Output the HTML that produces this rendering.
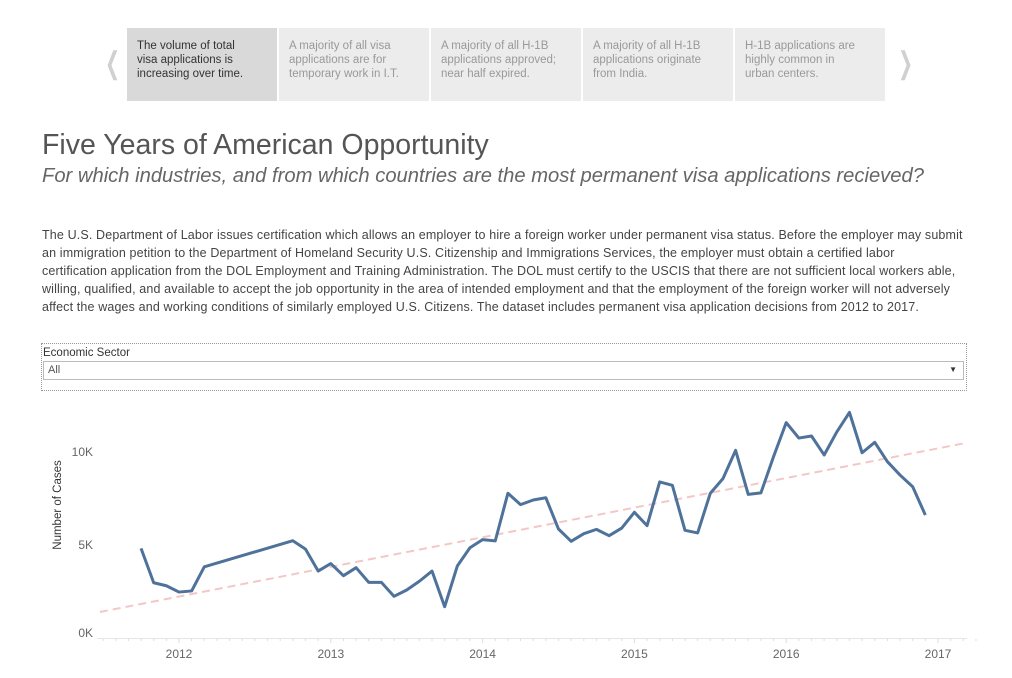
<!DOCTYPE html>
<html><head><meta charset="utf-8">
<style>
body{margin:0;width:1012px;height:678px;background:#fff;font-family:"Liberation Sans",sans-serif;position:relative;overflow:hidden}
.card{position:absolute;top:28px;width:150px;height:73px;background:#ececec;box-sizing:border-box;padding:11px 0 0 10px;font-size:11.5px;line-height:14px;color:#999}
.card.sel{background:#d9d9d9;color:#333}
.arrow{position:absolute;top:46px;font-size:30px;color:#d0d0d0;transform:scaleX(0.6)}
#title{position:absolute;left:42px;top:129px;font-size:28.5px;color:#555}
#sub{position:absolute;left:42px;top:165px;font-size:20.2px;font-style:italic;color:#666}
#desc{position:absolute;left:42px;top:226px;font-size:12.5px;letter-spacing:0.14px;line-height:18px;color:#444;white-space:nowrap}
#filter{position:absolute;left:41px;top:343px;width:926px;height:48px;border:1px dotted #999;box-sizing:border-box}
</style></head><body>
<div class="arrow" style="left:100px">&#10094;</div>
<div class="card sel" style="left:127px">The volume of total<br>visa applications is<br>increasing over time.</div>
<div class="card" style="left:279px">A majority of all visa<br>applications are for<br>temporary work in I.T.</div>
<div class="card" style="left:431px">A majority of all H-1B<br>applications approved;<br>near half expired.</div>
<div class="card" style="left:583px">A majority of all H-1B<br>applications originate<br>from India.</div>
<div class="card" style="left:735px">H-1B applications are<br>highly common in<br>urban centers.</div>
<div class="arrow" style="left:893px">&#10095;</div>
<div id="title">Five Years of American Opportunity</div>
<div id="sub">For which industries, and from which countries are the most permanent visa applications recieved?</div>
<div id="desc">The U.S. Department of Labor issues certification which allows an employer to hire a foreign worker under permanent visa status. Before the employer may submit<br>an immigration petition to the Department of Homeland Security U.S. Citizenship and Immigrations Services, the employer must obtain a certified labor<br>certification application from the DOL Employment and Training Administration. The DOL must certify to the USCIS that there are not sufficient local workers able,<br>willing, qualified, and available to accept the job opportunity in the area of intended employment and that the employment of the foreign worker will not adversely<br>affect the wages and working conditions of similarly employed U.S. Citizens. The dataset includes permanent visa application decisions from 2012 to 2017.</div>
<div id="filter">
<div style="position:absolute;left:1px;top:3px;font-size:11.5px;color:#333">Economic Sector</div>
<div style="position:absolute;left:1px;top:17px;width:921px;height:19px;border:1px solid #bbb;box-sizing:border-box;font-size:11px;color:#555;padding:2px 0 0 4px">All<span style="position:absolute;right:6px;top:3px;font-size:8px;color:#333">&#9660;</span></div>
</div>
<svg id="chart" width="1012" height="678" style="position:absolute;left:0;top:0"></svg>
<script>
const months=[-3,-2,-1,0,1,2,9,10,11,12,13,14,15,16,17,18,19,20,21,22,23,24,25,26,27,28,29,30,31,32,33,34,35,36,37,38,39,40,41,42,43,44,45,46,47,48,49,50,51,52,53,54,55,56,57,58,59];
const cases=[4.82,2.97,2.81,2.47,2.53,3.83,5.23,4.78,3.6,4.0,3.35,3.78,2.99,2.99,2.24,2.58,3.05,3.6,1.68,3.87,4.85,5.29,5.22,7.78,7.17,7.42,7.54,5.86,5.2,5.61,5.84,5.5,5.91,6.76,6.04,8.39,8.21,5.79,5.65,7.78,8.57,10.09,7.72,7.8,9.75,11.58,10.75,10.86,9.84,11.08,12.13,9.96,10.52,9.48,8.76,8.13,6.61];
const trendMonths=[-6.25,62.3];
const trendValues=[1.4,10.5];
const yTicks=[0,5,10];
const yTickLabels=["0K","5K","10K"];
const xYears=[2012,2013,2014,2015,2016,2017];
const svg=document.getElementById('chart');const NS='http://www.w3.org/2000/svg';
const X=m=>179+m*12.65, Y=v=>638-v*18.6;
function mk(t,a){const e=document.createElementNS(NS,t);for(const k in a)e.setAttribute(k,a[k]);svg.appendChild(e);return e;}
let ax=mk('line',{x1:97,x2:967,y1:638.5,y2:638.5,stroke:'#e6e6e6'});


for(let m=-6;m<=63;m++){let t=mk('line',{x1:X(m),x2:X(m),y1:639,y2:m%12==0?643:641,stroke:'#ddd'});

}
xYears.forEach((yr,i)=>{let t=mk('text',{x:X(i*12),y:658,'text-anchor':'middle','font-size':12,fill:'#666','font-family':'Liberation Sans'});t.textContent=yr;

});
yTicks.forEach((v,i)=>{let t=mk('text',{x:93,y:Y(v)+4-(v==0?5:0),'text-anchor':'end','font-size':12,fill:'#666','font-family':'Liberation Sans'});t.textContent=yTickLabels[i];

});
let yt=mk('text',{x:0,y:0,transform:'translate(61,505) rotate(-90)','text-anchor':'middle','font-size':11.5,fill:'#333','font-family':'Liberation Sans'});yt.textContent='Number of Cases';


let tr=mk('line',{x1:X(trendMonths[0]),y1:Y(trendValues[0]),x2:X(trendMonths[1]),y2:Y(trendValues[1]),stroke:'#f4c7c7','stroke-width':2,'stroke-dasharray':'8,5'});


let p=mk('polyline',{points:months.map((m,i)=>X(m)+','+Y(cases[i])).join(' '),fill:'none',stroke:'#4e729a','stroke-width':3,'stroke-linejoin':'round'});


</script>
</body></html>
